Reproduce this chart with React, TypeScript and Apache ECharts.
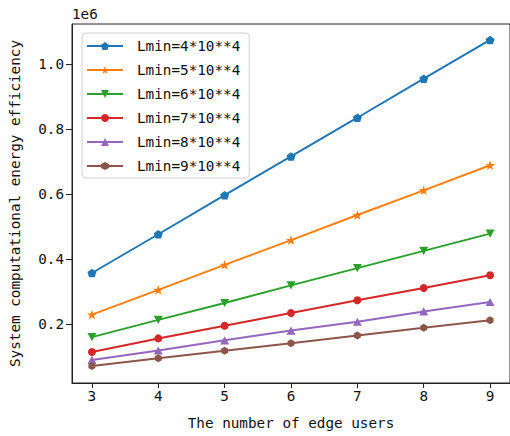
import React, { useEffect, useRef } from "react";
import * as echarts from "echarts";

const users = [3, 4, 5, 6, 7, 8, 9];
const seriesNames = [
  "Lmin=4*10**4",
  "Lmin=5*10**4",
  "Lmin=6*10**4",
  "Lmin=7*10**4",
  "Lmin=8*10**4",
  "Lmin=9*10**4",
];
const lmin4 = [358000, 477000, 597000, 716000, 835000, 955000, 1074000];
const lmin5 = [230000, 306000, 383000, 459000, 536000, 612000, 689000];
const lmin6 = [161000, 214000, 266000, 320000, 373000, 426000, 479000];
const lmin7 = [115000, 157000, 196000, 235000, 274000, 312000, 351000];
const lmin8 = [91000, 120000, 151000, 181000, 208000, 240000, 269000];
const lmin9 = [72000, 96000, 119000, 142000, 166000, 190000, 213000];
const xTicks = [3, 4, 5, 6, 7, 8, 9];
const yTicks = [200000, 400000, 600000, 800000, 1000000];

const FONT = "DejaVu Sans Mono";
const colors = ["#1f77b4", "#ff7f0e", "#2ca02c", "#d62728", "#9467bd", "#8c564b"];
const PENTAGON = "path://M0,-1L0.951,-0.309L0.588,0.809L-0.588,0.809L-0.951,-0.309Z";
const STAR =
  "path://M0,-1L0.235,-0.324L0.951,-0.309L0.38,0.124L0.588,0.809L0,0.4L-0.588,0.809L-0.38,0.124L-0.951,-0.309L-0.235,-0.324Z";
const TRI_DOWN = "path://M-1,-0.8L1,-0.8L0,1Z";
const TRI_UP = "path://M0,-1L1,0.8L-1,0.8Z";
const HEXAGON = "path://M0,-1L0.866,-0.5L0.866,0.5L0,1L-0.866,0.5L-0.866,-0.5Z";
const symbols = [PENTAGON, STAR, TRI_DOWN, "circle", TRI_UP, HEXAGON];
const sizes = [9, 10, 9, 8, 9, 8];

export default function App() {
  const ref = useRef<HTMLDivElement>(null);
  useEffect(() => {
    if (!ref.current) return;
    const chart = echarts.init(ref.current, undefined, { renderer: "svg" });
    const all = [lmin4, lmin5, lmin6, lmin7, lmin8, lmin9];
    chart.setOption({
      animation: false,
      backgroundColor: "#ffffff",
      textStyle: { fontFamily: FONT },
      grid: {
        left: 72,
        top: 24,
        right: -2,
        bottom: 53,
        show: true,
        borderColor: "#222",
        borderWidth: 1,
        backgroundColor: "transparent",
      },
      legend: {
        orient: "vertical",
        left: 82,
        top: 33,
        itemWidth: 36,
        itemHeight: 10,
        itemGap: 10,
        padding: [6, 9, 5, 4],
        backgroundColor: "rgba(255,255,255,0.85)",
        borderColor: "#d0d0d0",
        borderWidth: 1,
        borderRadius: 4,
        textStyle: { fontFamily: FONT, fontSize: 14.3, color: "#111", padding: [0, 0, 0, 9] },
        data: seriesNames,
      },
      xAxis: {
        type: "value",
        min: 2.7,
        max: 9.3,
        name: "The number of edge users",
        nameLocation: "middle",
        nameGap: 33,
        nameTextStyle: { fontFamily: FONT, fontSize: 14.3, color: "#111" },
        axisLine: { show: true, lineStyle: { color: "#222", width: 1 } },
        axisTick: { show: true, length: 5, customValues: xTicks, lineStyle: { color: "#222" } },
        axisLabel: {
          customValues: xTicks,
          fontFamily: FONT,
          fontSize: 14.3,
          color: "#111",
          margin: 6,
        },
        splitLine: { show: false },
      },
      yAxis: {
        type: "value",
        min: 20000,
        max: 1123000,
        name: "System computational energy efficiency",
        nameLocation: "middle",
        nameRotate: 90,
        nameGap: 50,
        nameTextStyle: { fontFamily: FONT, fontSize: 14.3, color: "#111" },
        axisLine: { show: true, lineStyle: { color: "#222", width: 1 } },
        axisTick: { show: true, length: 6, customValues: yTicks, lineStyle: { color: "#222" } },
        axisLabel: {
          customValues: yTicks,
          fontFamily: FONT,
          fontSize: 14.3,
          color: "#111",
          margin: 8,
          formatter: (v: number) => (v / 1e6).toFixed(1),
        },
        splitLine: { show: false },
      },
      graphic: [
        {
          type: "text",
          left: 72,
          top: 7,
          style: { text: "1e6", fontFamily: FONT, fontSize: 14.3, fill: "#111" },
        },
      ],
      series: seriesNames.map((name, i) => ({
        name,
        type: "line",
        data: users.map((u, j) => [u, all[i][j]]),
        symbol: symbols[i],
        symbolSize: sizes[i],
        symbolKeepAspect: true,
        showAllSymbol: true,
        itemStyle: { color: colors[i] },
        lineStyle: { color: colors[i], width: 2 },
        emphasis: { disabled: true },
      })),
    });
    return () => chart.dispose();
  }, []);
  return (
    <div
      ref={ref}
      style={{ position: "absolute", left: 0, top: 0, width: 510, height: 436 }}
    />
  );
}
